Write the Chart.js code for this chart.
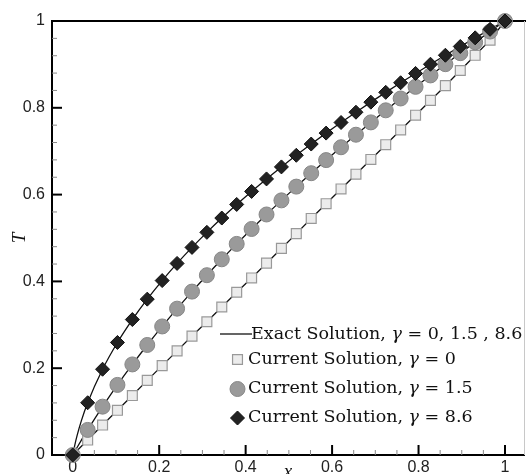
<!DOCTYPE html>
<html lang="en">
<head>
    <meta charset="UTF-8">
    <title>Temperature profiles</title>
    <script src="https://cdn.jsdelivr.net/npm/chart.js"></script>
    <style>
        html, body { margin: 0; padding: 0; background: #fff; }
        #chart { display: block; }
    </style>
</head>
<body>
    <canvas id="chart" width="526" height="474"></canvas>
    <script>
        // grid nodes along x (30 nodes)
        var xNodes = [0, 0.0345, 0.0690, 0.1034, 0.1379, 0.1724, 0.2069, 0.2414, 0.2759, 0.3103,
                      0.3448, 0.3793, 0.4138, 0.4483, 0.4828, 0.5172, 0.5517, 0.5862, 0.6207, 0.6552,
                      0.6897, 0.7241, 0.7586, 0.7931, 0.8276, 0.8621, 0.8966, 0.9310, 0.9655, 1];
        // T at the nodes, gamma = 0 (squares)
        var tGamma0 = [0, 0.0345, 0.069, 0.103, 0.137, 0.172, 0.206, 0.240, 0.274, 0.307,
                       0.341, 0.375, 0.408, 0.442, 0.476, 0.510, 0.545, 0.579, 0.613, 0.647,
                       0.681, 0.715, 0.749, 0.783, 0.817, 0.851, 0.886, 0.921, 0.956, 1];
        // gamma = 1.5 (circles)
        var tGamma15 = [0, 0.0578, 0.1114, 0.1615, 0.2087, 0.2535, 0.2962, 0.3372, 0.3765, 0.4143,
                        0.4509, 0.4864, 0.5208, 0.5542, 0.5867, 0.6184, 0.6493, 0.6795, 0.7091, 0.7380,
                        0.7664, 0.7942, 0.8215, 0.8483, 0.8746, 0.9005, 0.9259, 0.9510, 0.9757, 1];
        // gamma = 8.6 (diamonds)
        var tGamma86 = [0, 0.1204, 0.1976, 0.2593, 0.3121, 0.3591, 0.4019, 0.4414, 0.4783, 0.5130,
                        0.5460, 0.5773, 0.6073, 0.6361, 0.6638, 0.6906, 0.7165, 0.7417, 0.7661, 0.7898,
                        0.8130, 0.8356, 0.8577, 0.8792, 0.9004, 0.9211, 0.9413, 0.9612, 0.9808, 1];
        // extra points of the exact curves close to x = 0 (the steep part)
        var xNearWall = [0.005, 0.01, 0.02];
        var tExact15Near = [0.0087, 0.0173, 0.0341];
        var tExact86Near = [0.0240, 0.0445, 0.0791];

        var xTickValues = [0, 0.2, 0.4, 0.6, 0.8, 1];
        var yTickValues = [0, 0.2, 0.4, 0.6, 0.8, 1];

        var legendRows = [
            [['Exact Solution, ', false], ['\u03B3', true], [' = 0, 1.5 , 8.6', false]],
            [['Current Solution, ', false], ['\u03B3', true], [' = 0', false]],
            [['Current Solution, ', false], ['\u03B3', true], [' = 1.5', false]],
            [['Current Solution, ', false], ['\u03B3', true], [' = 8.6', false]]
        ];

        function toPoints(xs, ys) {
            return xs.map(function (x, i) { return {x: x, y: ys[i]}; });
        }

        function exactPoints(nearT, nodeT) {
            var pts = [{x: xNodes[0], y: nodeT[0]}];
            xNearWall.forEach(function (x, i) { pts.push({x: x, y: nearT[i]}); });
            for (var i = 1; i < xNodes.length; i++) {
                pts.push({x: xNodes[i], y: nodeT[i]});
            }
            return pts;
        }

        function drawMarker(ctx, style, x, y, r, fill, stroke, lw) {
            ctx.beginPath();
            if (style === 'circle') {
                ctx.arc(x, y, r, 0, Math.PI * 2);
            } else if (style === 'rect') {
                var s = r * Math.SQRT1_2;
                ctx.rect(x - s, y - s, 2 * s, 2 * s);
            } else {
                ctx.moveTo(x, y - r);
                ctx.lineTo(x + r, y);
                ctx.lineTo(x, y + r);
                ctx.lineTo(x - r, y);
                ctx.closePath();
            }
            ctx.fillStyle = fill;
            ctx.fill();
            ctx.strokeStyle = stroke;
            ctx.lineWidth = lw;
            ctx.stroke();
        }

        // box lines and inward tick marks
        var framePlugin = {
            id: 'frame',
            beforeDatasetsDraw: function (chart) {
                var ctx = chart.ctx, a = chart.chartArea;
                var xs = chart.scales.x, ys = chart.scales.y;
                var k, v, px;
                ctx.save();
                ctx.strokeStyle = '#000';
                ctx.lineWidth = 2;
                ctx.beginPath();
                ctx.moveTo(a.left, a.top);
                ctx.lineTo(chart.width, a.top);
                ctx.stroke();

                ctx.strokeStyle = '#c8c8c8';
                ctx.lineWidth = 1;
                ctx.beginPath();
                ctx.moveTo(a.right + 0.5, a.top);
                ctx.lineTo(a.right + 0.5, a.bottom);
                ctx.stroke();

                // x ticks: major every 0.2, minor every 0.05
                for (k = 1; k <= 20; k++) {
                    v = k * 0.05;
                    px = xs.getPixelForValue(v);
                    var major = (k % 4 === 0);
                    ctx.strokeStyle = major ? '#000' : '#888';
                    ctx.lineWidth = major ? 2 : 1;
                    ctx.beginPath();
                    ctx.moveTo(px, a.bottom);
                    ctx.lineTo(px, a.bottom - (major ? 10 : 5));
                    ctx.stroke();
                }
                // y ticks: major every 0.2, minor every 0.04
                for (k = 1; k < 25; k++) {
                    v = k * 0.04;
                    px = ys.getPixelForValue(v);
                    var majorY = (k % 5 === 0);
                    ctx.strokeStyle = majorY ? '#000' : '#888';
                    ctx.lineWidth = majorY ? 2 : 1;
                    ctx.beginPath();
                    ctx.moveTo(a.left, px);
                    ctx.lineTo(a.left + (majorY ? 10 : 5), px);
                    ctx.stroke();
                }
                ctx.restore();
            }
        };

        // legend inside the plot, lower right
        var legendPlugin = {
            id: 'insideLegend',
            afterDraw: function (chart) {
                var ctx = chart.ctx;
                var sets = chart.data.datasets;
                var rowY = [339, 364, 392.5, 421.5];
                var textX = [251, 248, 248, 248];
                var size = 17.5;
                ctx.save();
                // line sample for the exact solution
                ctx.strokeStyle = sets[3].borderColor;
                ctx.lineWidth = sets[3].borderWidth;
                ctx.beginPath();
                ctx.moveTo(220, 334);
                ctx.lineTo(252, 334);
                ctx.stroke();
                // marker samples
                [[2, 359.5], [1, 389], [0, 418]].forEach(function (m) {
                    var ds = sets[m[0]];
                    drawMarker(ctx, ds.pointStyle, 237.5, m[1], ds.pointRadius,
                               ds.pointBackgroundColor, ds.pointBorderColor, ds.pointBorderWidth);
                });
                ctx.fillStyle = '#111';
                ctx.textBaseline = 'alphabetic';
                legendRows.forEach(function (row, r) {
                    var x = textX[r];
                    row.forEach(function (part) {
                        ctx.font = (part[1] ? 'italic ' : '') + size + "px 'DejaVu Serif'";
                        ctx.fillText(part[0], x, rowY[r]);
                        x += ctx.measureText(part[0]).width;
                    });
                });
                ctx.restore();
            }
        };

        var ctx = document.getElementById('chart').getContext('2d');
        new Chart(ctx, {
            type: 'scatter',
            data: {
                datasets: [
                    {
                        label: 'Current Solution, \u03B3 = 8.6',
                        data: toPoints(xNodes, tGamma86),
                        showLine: false,
                        pointStyle: 'rectRot',
                        pointRadius: 7,
                        pointBackgroundColor: '#222',
                        pointBorderColor: '#111',
                        pointBorderWidth: 1,
                        clip: false,
                        order: 1
                    },
                    {
                        label: 'Current Solution, \u03B3 = 1.5',
                        data: toPoints(xNodes, tGamma15),
                        showLine: false,
                        pointStyle: 'circle',
                        pointRadius: 7.5,
                        pointBackgroundColor: '#9a9a9a',
                        pointBorderColor: '#878787',
                        pointBorderWidth: 1,
                        clip: false,
                        order: 2
                    },
                    {
                        label: 'Current Solution, \u03B3 = 0',
                        data: toPoints(xNodes, tGamma0),
                        showLine: false,
                        pointStyle: 'rect',
                        pointRadius: 7,
                        pointBackgroundColor: '#ececec',
                        pointBorderColor: '#999',
                        pointBorderWidth: 1.2,
                        clip: false,
                        order: 3
                    },
                    {
                        label: 'Exact Solution, \u03B3 = 0',
                        data: toPoints(xNodes, tGamma0),
                        showLine: true,
                        pointRadius: 0,
                        borderColor: '#111',
                        borderWidth: 1.3,
                        order: 4
                    },
                    {
                        label: 'Exact Solution, \u03B3 = 1.5',
                        data: exactPoints(tExact15Near, tGamma15),
                        showLine: true,
                        pointRadius: 0,
                        borderColor: '#111',
                        borderWidth: 1.3,
                        cubicInterpolationMode: 'monotone',
                        order: 5
                    },
                    {
                        label: 'Exact Solution, \u03B3 = 8.6',
                        data: exactPoints(tExact86Near, tGamma86),
                        showLine: true,
                        pointRadius: 0,
                        borderColor: '#111',
                        borderWidth: 1.3,
                        cubicInterpolationMode: 'monotone',
                        order: 6
                    }
                ]
            },
            options: {
                responsive: false,
                devicePixelRatio: 1,
                animation: false,
                events: [],
                layout: { autoPadding: false, padding: { top: 21, right: 2, bottom: 0, left: 0 } },
                plugins: {
                    legend: { display: false },
                    tooltip: { enabled: false }
                },
                scales: {
                    x: {
                        type: 'linear',
                        min: -0.048,
                        max: 1.044,
                        afterBuildTicks: function (s) {
                            s.ticks = xTickValues.map(function (v) { return {value: v}; });
                        },
                        afterFit: function (s) {
                            s.height = 19;
                            s.paddingLeft = 0;
                            s.paddingRight = 0;
                        },
                        grid: { display: false, drawTicks: false },
                        border: { display: true, color: '#000', width: 2 },
                        ticks: {
                            autoSkip: false,
                            maxRotation: 0,
                            padding: 3,
                            color: '#222',
                            font: { family: "'Liberation Sans', Arial, sans-serif", size: 16 },
                            callback: function (v) { return String(v); }
                        },
                        title: {
                            display: true,
                            text: 'x',
                            color: '#111',
                            font: { family: "'Liberation Serif', serif", size: 19, style: 'italic' },
                            padding: { top: 0, bottom: -9 }
                        }
                    },
                    y: {
                        type: 'linear',
                        min: 0,
                        max: 1,
                        afterBuildTicks: function (s) {
                            s.ticks = yTickValues.map(function (v) { return {value: v}; });
                        },
                        afterFit: function (s) { s.width = 52; },
                        grid: { display: false, drawTicks: false },
                        border: { display: true, color: '#000', width: 2 },
                        ticks: {
                            padding: 7,
                            color: '#222',
                            font: { family: "'Liberation Sans', Arial, sans-serif", size: 16 },
                            callback: function (v) { return String(v); }
                        },
                        title: {
                            display: true,
                            text: 'T',
                            color: '#111',
                            font: { family: "'Liberation Serif', serif", size: 19, style: 'italic' },
                            padding: { top: 9, bottom: 0 }
                        }
                    }
                }
            },
            plugins: [framePlugin, legendPlugin]
        });
    </script>
</body>
</html>
